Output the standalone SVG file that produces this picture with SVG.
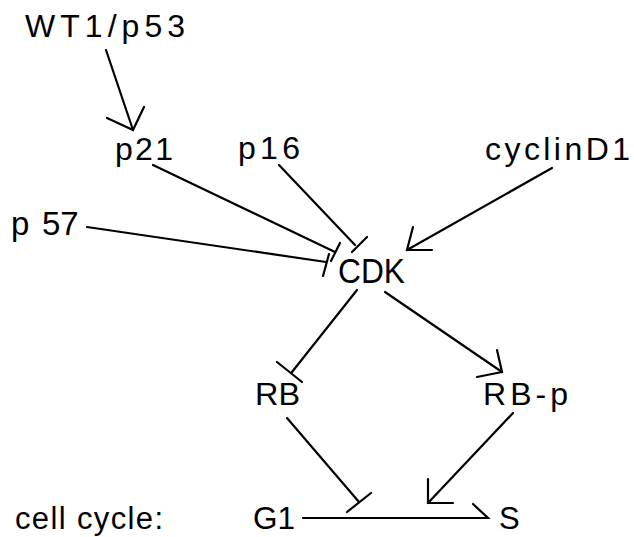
<svg xmlns="http://www.w3.org/2000/svg" width="634" height="537" viewBox="0 0 634 537">
<style>
text{font-family:"Liberation Sans",Arial,sans-serif;font-size:32px;fill:#000}
.ln{stroke:#000;stroke-width:2.2;fill:none;stroke-linecap:round;stroke-linejoin:miter}
</style>
<rect width="634" height="537" fill="#fff"/>
<g id="n-wt1p53"><text x="25" y="37" textLength="160" lengthAdjust="spacing">WT1/p53</text></g>
<g id="n-p21"><text x="115" y="160" textLength="58" lengthAdjust="spacing">p21</text></g>
<g id="n-p16"><text x="238" y="159" textLength="62" lengthAdjust="spacing">p16</text></g>
<g id="n-cyclinD1"><text x="485" y="160" textLength="145" lengthAdjust="spacing">cyclinD1</text></g>
<g id="n-p57"><text x="11" y="235" style="font-size:33px">p <tspan x="42">57</tspan></text></g>
<g id="n-cdk"><text x="338" y="283" style="font-size:35px" textLength="67" lengthAdjust="spacingAndGlyphs">CDK</text></g>
<g id="n-rb"><text x="255" y="405" style="font-size:32px" textLength="45" lengthAdjust="spacingAndGlyphs">RB</text></g>
<g id="n-rbp"><text x="483" y="405" style="font-size:32px" textLength="85" lengthAdjust="spacing">RB-p</text></g>
<g id="n-cellcycle"><text x="15" y="529" style="font-size:31px" textLength="148" lengthAdjust="spacing">cell cycle:</text></g>
<g id="n-g1"><text x="253" y="529" style="font-size:31px" textLength="42" lengthAdjust="spacingAndGlyphs">G1</text></g>
<g id="n-s"><text x="499" y="529" style="font-size:31px">S</text></g>
<g id="connectors">
  <!-- WT1/p53 -> p21 -->
  <path class="ln" d="M106,50 L133,130"/>
  <path class="ln" d="M107,118 L133,130 L144,107"/>
  <!-- p21 -| CDK -->
  <path class="ln" d="M153,165 L335,252"/>
  <path class="ln" d="M340,243 L331,261"/>
  <!-- p16 -| CDK -->
  <path class="ln" d="M279,165 L355,245"/>
  <path class="ln" d="M367,237 L352,252"/>
  <!-- p57 -| CDK -->
  <path class="ln" d="M87,227 L326,262"/>
  <path class="ln" d="M329,254 L323,276"/>
  <!-- cyclinD1 -> CDK -->
  <path class="ln" d="M552,168 L407,250"/>
  <path class="ln" d="M413,227 L407,250 L432,250"/>
  <!-- CDK -| RB -->
  <path class="ln" d="M357,290 L292,372"/>
  <path class="ln" d="M277,362 L302,382"/>
  <!-- CDK -> RB-p -->
  <path class="ln" d="M385,292 L502,372"/>
  <path class="ln" d="M497,350 L502,372 L477,377"/>
  <!-- RB -| transition -->
  <path class="ln" d="M287,418 L359,502"/>
  <path class="ln" d="M347,512 L371,493"/>
  <!-- RB-p -> transition -->
  <path class="ln" d="M513,413 L428,503"/>
  <path class="ln" d="M428,479 L428,503 L453,503"/>
  <!-- G1 -> S -->
  <path class="ln" d="M303,518 L488,518 L473,504"/>
</g>
</svg>
